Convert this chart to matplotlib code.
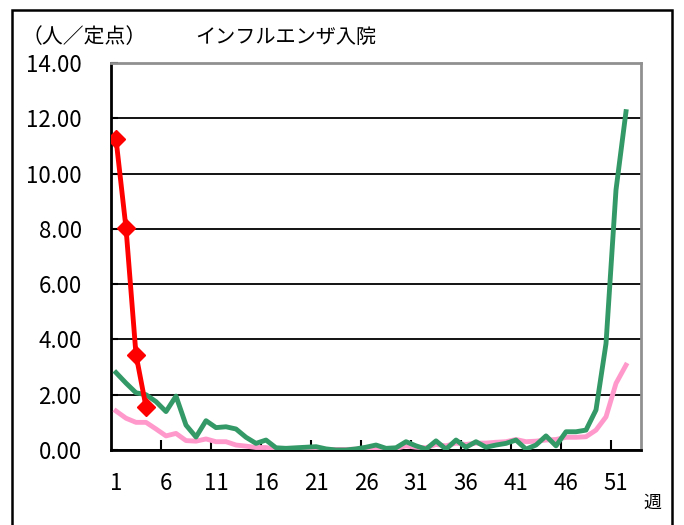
import numpy as np
import matplotlib
matplotlib.use("Agg")
import matplotlib.pyplot as plt
from matplotlib.patches import Rectangle

plt.rcParams['font.family'] = ['Noto Sans CJK JP', 'DejaVu Sans']

# 週ごとの定点当たり入院数
weeks = np.arange(1, 53)
this_season = [11.25, 8.03, 3.45, 1.56]
last_season = [2.80, 2.42, 2.07, 2.00, 1.75, 1.39, 1.95, 0.90, 0.47, 1.06,
               0.81, 0.84, 0.76, 0.46, 0.24, 0.36, 0.08, 0.06, 0.08, 0.10,
               0.12, 0.04, 0.00, 0.00, 0.04, 0.10, 0.18, 0.06, 0.08, 0.30,
               0.15, 0.03, 0.33, 0.03, 0.36, 0.10, 0.30, 0.10, 0.18, 0.24,
               0.36, 0.03, 0.18, 0.51, 0.15, 0.66, 0.66, 0.72, 1.45, 3.85,
               9.41, 12.24]
avg_season = [1.41, 1.15, 1.00, 1.00, 0.76, 0.51, 0.60, 0.34, 0.32, 0.40,
              0.30, 0.30, 0.18, 0.14, 0.09, 0.09, 0.02, 0.02, 0.02, 0.02,
              0.02, 0.02, 0.02, 0.02, 0.03, 0.05, 0.08, 0.05, 0.06, 0.15,
              0.10, 0.08, 0.20, 0.15, 0.25, 0.20, 0.25, 0.25, 0.28, 0.30,
              0.38, 0.30, 0.32, 0.36, 0.38, 0.46, 0.46, 0.48, 0.72, 1.20,
              2.41, 3.07]
xtick_labels = [1, 6, 11, 16, 21, 26, 31, 36, 41, 46, 51]

fig = plt.figure(figsize=(6.84, 5.25), dpi=100)
ax = fig.add_axes([111/684, 75/525, 530/684, 387/525])

ax.plot(weeks, avg_season, color='#ff99cc', lw=3.5, solid_joinstyle='round', zorder=3)
ax.plot(weeks, last_season, color='#339966', lw=3.5, solid_joinstyle='round', zorder=4)
ax.plot(weeks[:len(this_season)], this_season, color='#ff0000', lw=3.5,
        marker='D', markersize=9, zorder=5)

ax.set_xlim(0.5, 53.5)
ax.set_ylim(0, 14)
ax.set_yticks(np.arange(0, 15, 2))
ax.set_yticklabels([f"{v:.2f}" for v in np.arange(0, 15, 2)], fontsize=16)
ax.set_xticks(xtick_labels)
ax.set_xticklabels([str(v) for v in xtick_labels], fontsize=16)
ax.set_xticks(np.arange(5.5, 53, 5), minor=True)
ax.tick_params(axis='x', which='major', length=0, pad=16)
ax.tick_params(axis='x', which='minor', direction='in', length=7, width=1.5)
ax.tick_params(axis='y', direction='in', length=5, width=1.5, pad=21)
ax.grid(axis='y', color='black', lw=1.3, zorder=1)

for side in ['left', 'bottom']:
    ax.spines[side].set_color('black')
    ax.spines[side].set_linewidth(2)
for side in ['top', 'right']:
    ax.spines[side].set_color('#909090')
    ax.spines[side].set_linewidth(2)

fig.text(286/684, 1 - 37/525, 'インフルエンザ入院', ha='center', va='center', fontsize=14.5)
fig.text(22/684, 1 - 37/525, '（人／定点）', ha='left', va='center', fontsize=15)
fig.text(652/684, 1 - 503/525, '週', ha='center', va='center', fontsize=13)

fig.patches.append(Rectangle((12/684, -0.05), 660/684, 1.05 - 10/525,
                             transform=fig.transFigure, fill=False,
                             edgecolor='black', lw=1.8))

fig.savefig('out.png', dpi=100)
